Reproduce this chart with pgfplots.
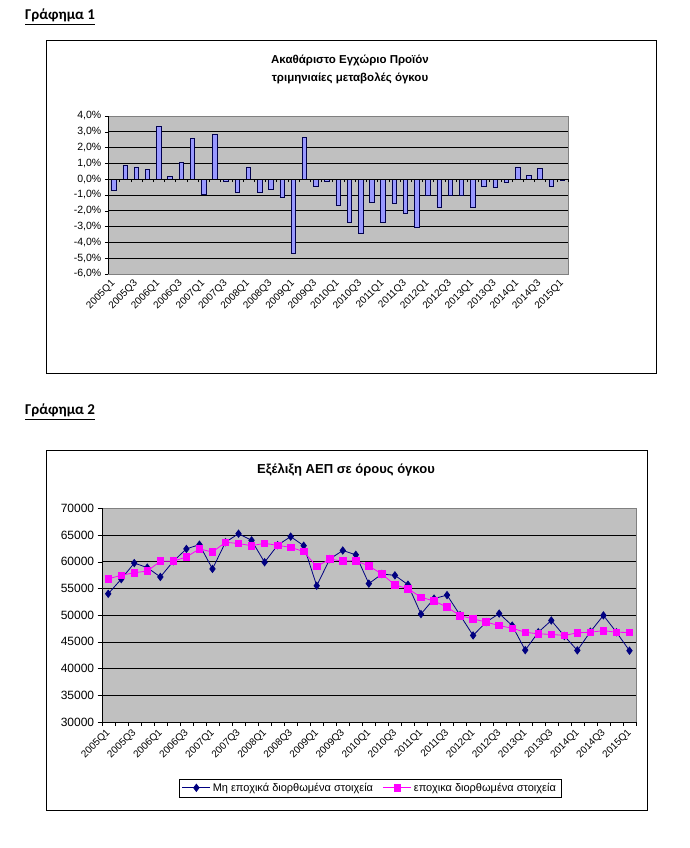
\documentclass[border=0pt]{standalone}
\usepackage{pgfplots}
\usepackage{pgfplotstable}
\pgfplotsset{compat=1.18}
\usepackage{fontspec}
\setmainfont{Liberation Sans}
\newfontfamily\calibri{Carlito}
\definecolor{plotgray}{HTML}{C0C0C0}
\definecolor{bordergray}{HTML}{808080}
\definecolor{barblue}{HTML}{9999FF}
\definecolor{navy}{HTML}{000080}
\definecolor{mag}{HTML}{FF00FF}

\pgfplotstableread{
v
-0.70
0.89
0.78
0.63
3.32
0.17
1.04
2.60
-0.97
2.81
-0.13
-0.80
0.78
-0.80
-0.65
-1.16
-4.67
2.64
-0.44
-0.15
-1.65
-2.73
-3.40
-1.46
-2.73
-1.52
-2.14
-3.02
-0.99
-1.75
-0.99
-0.99
-1.75
-0.42
-0.51
-0.19
0.78
0.25
0.68
-0.42
-0.10
}\growth

\pgfplotstableread{
nsa sa
54000 56800
56750 57450
59750 57950
58900 58250
57150 60100
60100 60100
62400 60900
63200 62400
58650 61800
63650 63650
65250 63400
64000 63000
59900 63450
63100 63050
64700 62700
63000 61900
55500 59100
60500 60500
62100 60100
61300 60200
55900 59200
57700 57700
57450 55650
55700 54950
50200 53350
53100 52650
53750 51500
50000 49900
46200 49300
48700 48700
50300 48050
48050 47550
43450 46800
46800 46500
49000 46400
46100 46200
43400 46700
46900 46800
49950 47100
46800 46800
43350 46750
}\gdp

\begin{document}
\begin{tikzpicture}[x=1pt,y=1pt]
\path[use as bounding box] (0,0) rectangle (690,848);

% ---------- Chart 1 ----------
\node[anchor=base west, inner sep=0pt, font=\calibri\bfseries\fontsize{15}{18}\selectfont] at (25,828) {\underline{Γράφημα 1}};
\draw[line width=0.9pt] (46,475) rectangle (656,808);
\node[align=center, font=\bfseries\fontsize{11.5}{18}\selectfont] at (350,779) {Ακαθάριστο Εγχώριο Προϊόν\\τριμηνιαίες μεταβολές όγκου};

\begin{axis}[
  at={(108.3pt,574pt)}, anchor=south west, scale only axis,
  width=459.7pt, height=158pt,
  xmin=-0.5, xmax=40.5, ymin=-6, ymax=4,
  axis background/.style={fill=plotgray, draw=bordergray},
  axis x line*=bottom, axis y line*=left,
  x axis line style={draw=bordergray,-}, y axis line style={draw=black,-},
  ytick={-6,-5,...,4},
  yticklabels={{-6,0\%},{-5,0\%},{-4,0\%},{-3,0\%},{-2,0\%},{-1,0\%},{0,0\%},{1,0\%},{2,0\%},{3,0\%},{4,0\%}},
  extra y ticks={-5,-4,...,3}, extra y tick labels={},
  extra y tick style={grid=major, tick style={draw=none}},
  grid style={black, line width=0.6pt},
  tick align=outside, major tick length=3.5pt, ytick style={black},
  xtick={0,2,...,40},
  xticklabels={2005Q1,2005Q3,2006Q1,2006Q3,2007Q1,2007Q3,2008Q1,2008Q3,2009Q1,2009Q3,2010Q1,2010Q3,2011Q1,2011Q3,2012Q1,2012Q3,2013Q1,2013Q3,2014Q1,2014Q3,2015Q1},
  xtick style={draw=none},
  xticklabel style={rotate=45, anchor=east, yshift=-3pt, font=\fontsize{10}{12}\selectfont},
  yticklabel style={font=\fontsize{10.5}{12}\selectfont},
  ybar, bar width=4.5pt,
]
\addplot[fill=barblue, draw=navy!60!black, line width=0.6pt] table[x expr=\coordindex, y=v] {\growth};
\end{axis}

\begin{axis}[
  at={(108.3pt,574pt)}, anchor=south west, scale only axis,
  width=459.7pt, height=158pt,
  xmin=-0.5, xmax=40.5, ymin=-6, ymax=4,
  axis x line=middle, axis y line=none,
  x axis line style={black,-}, every inner x axis line/.append style={-},
  xtick={-0.5,0.5,...,40.5}, xticklabels={}, ytick=\empty,
  tick align=outside, major tick length=3pt, xtick style={black},
]
\addplot[draw=none] coordinates {(0,0)};
\end{axis}

% ---------- Chart 2 ----------
\node[anchor=base west, inner sep=0pt, font=\calibri\bfseries\fontsize{15}{18}\selectfont] at (25,433) {\underline{Γράφημα 2}};
\draw[line width=0.9pt] (46.5,38) rectangle (647,398);
\node[font=\bfseries\fontsize{13}{15}\selectfont] at (346,378) {Εξέλιξη ΑΕΠ σε όρους όγκου};

\begin{axis}[
  at={(101.7pt,126pt)}, anchor=south west, scale only axis,
  width=534.3pt, height=213.7pt,
  xmin=-0.5, xmax=40.5, ymin=30000, ymax=70000,
  scaled y ticks=false,
  axis background/.style={fill=plotgray, draw=bordergray},
  axis x line*=bottom, axis y line*=left,
  axis line style={black,-},
  ytick={30000,35000,...,70000},
  yticklabels={30000,35000,40000,45000,50000,55000,60000,65000,70000},
  extra y ticks={35000,40000,...,65000}, extra y tick labels={},
  extra y tick style={grid=major, tick style={draw=none}},
  grid style={black, line width=0.6pt},
  tick align=outside, major tick length=4pt, tick style={black},
  xtick={-0.5,0.5,...,40.5}, xticklabels={},
  extra x ticks={0,2,...,40},
  extra x tick labels={2005Q1,2005Q3,2006Q1,2006Q3,2007Q1,2007Q3,2008Q1,2008Q3,2009Q1,2009Q3,2010Q1,2010Q3,2011Q1,2011Q3,2012Q1,2012Q3,2013Q1,2013Q3,2014Q1,2014Q3,2015Q1},
  extra x tick style={tick style={draw=none}, xticklabel style={rotate=45, anchor=east, yshift=-4pt, font=\fontsize{10}{12}\selectfont}},
  yticklabel style={font=\fontsize{12}{14}\selectfont},
  legend style={at={(0.502,-0.308)}, anchor=center, draw=black, fill=white,
    font=\fontsize{11}{13}\selectfont, legend columns=2,
    /tikz/every even column/.append style={column sep=8pt}},
  legend cell align=left,
  legend image code/.code={\draw[mark repeat=2, mark phase=2] plot coordinates {(0pt,0pt)(14pt,0pt)(28pt,0pt)};},
]
\addplot[navy, line width=0.8pt, mark=diamond*, mark size=3.6pt, mark options={fill=navy, draw=navy}] table[x expr=\coordindex, y=nsa] {\gdp};
\addlegendentry{Μη εποχικά διορθωμένα στοιχεία}
\addplot[mag, line width=0.8pt, mark=square*, mark size=3.3pt, mark options={fill=mag, draw=mag}] table[x expr=\coordindex, y=sa] {\gdp};
\addlegendentry{εποχικα διορθωμένα στοιχεία}
\end{axis}
\end{tikzpicture}
\end{document}
